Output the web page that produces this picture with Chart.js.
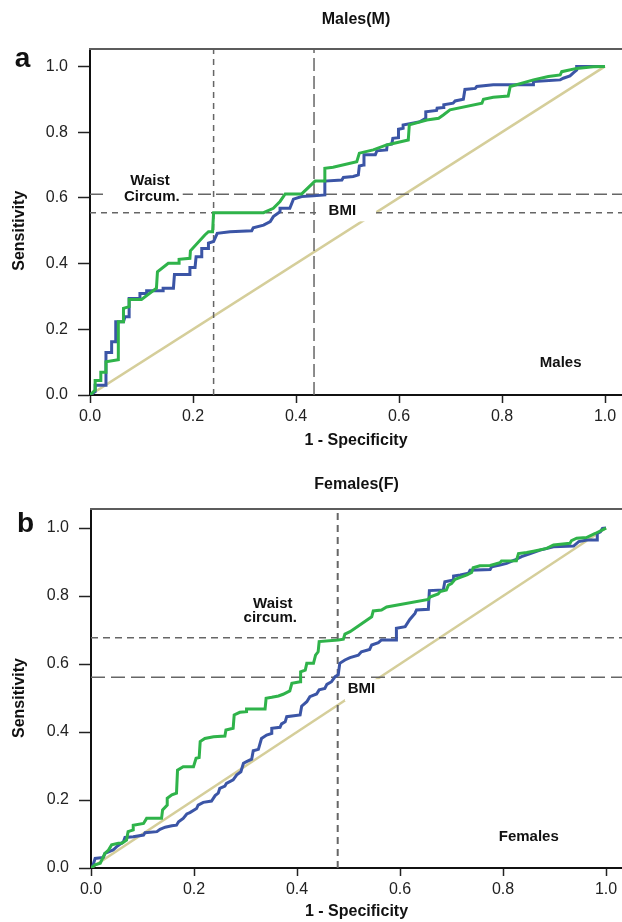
<!DOCTYPE html>
<html>
<head>
<meta charset="utf-8">
<script src="https://cdn.jsdelivr.net/npm/chart.js@4.4.1/dist/chart.umd.min.js"></script>
<style>
  body { margin: 0; background: #fff; }
  .panel { position: absolute; left: 0; width: 622px; }
  #boxA { top: 0; height: 460px; }
  #boxB { top: 460px; height: 462px; }
</style>
</head>
<body>
<div class="panel" id="boxA"><canvas id="chartA"></canvas></div>
<div class="panel" id="boxB"><canvas id="chartB"></canvas></div>
<script>
// tick values shared by both axes
const axisTicks = [0, 0.2, 0.4, 0.6, 0.8, 1.0];

// Males: ROC points [1 - specificity, sensitivity]
const maleWaist = [[0,0],[0.010,0.015],[0.010,0.044],[0.021,0.044],[0.021,0.069],[0.031,0.069],[0.031,0.101],[0.055,0.107],[0.055,0.223],[0.065,0.223],[0.065,0.264],[0.076,0.269],[0.076,0.291],[0.100,0.291],[0.129,0.325],[0.131,0.375],[0.152,0.401],[0.173,0.401],[0.173,0.413],[0.194,0.416],[0.195,0.439],[0.223,0.487],[0.230,0.497],[0.238,0.497],[0.240,0.555],[0.337,0.555],[0.356,0.568],[0.369,0.589],[0.379,0.612],[0.411,0.612],[0.437,0.651],[0.456,0.651],[0.456,0.690],[0.472,0.693],[0.518,0.710],[0.523,0.736],[0.550,0.746],[0.576,0.761],[0.618,0.776],[0.620,0.822],[0.654,0.837],[0.677,0.842],[0.686,0.852],[0.699,0.868],[0.761,0.888],[0.764,0.900],[0.783,0.906],[0.812,0.910],[0.816,0.939],[0.861,0.959],[0.890,0.969],[0.913,0.974],[0.916,0.984],[0.945,0.994],[0.977,0.999],[1.0,1.0]];
const maleBmi = [[0,0],[0.010,0.010],[0.010,0.030],[0.031,0.030],[0.031,0.129],[0.042,0.129],[0.042,0.162],[0.050,0.162],[0.050,0.223],[0.065,0.223],[0.068,0.238],[0.076,0.238],[0.076,0.294],[0.097,0.294],[0.097,0.309],[0.110,0.309],[0.110,0.317],[0.142,0.317],[0.142,0.325],[0.162,0.325],[0.164,0.367],[0.194,0.367],[0.194,0.388],[0.204,0.388],[0.206,0.421],[0.217,0.421],[0.217,0.446],[0.230,0.446],[0.230,0.462],[0.240,0.467],[0.247,0.492],[0.272,0.497],[0.314,0.500],[0.317,0.509],[0.337,0.517],[0.350,0.528],[0.356,0.543],[0.369,0.558],[0.369,0.568],[0.388,0.568],[0.395,0.596],[0.411,0.604],[0.434,0.606],[0.456,0.609],[0.456,0.651],[0.489,0.654],[0.492,0.662],[0.511,0.665],[0.521,0.670],[0.523,0.697],[0.531,0.700],[0.532,0.731],[0.554,0.731],[0.557,0.743],[0.576,0.746],[0.577,0.761],[0.586,0.764],[0.588,0.781],[0.599,0.783],[0.599,0.809],[0.608,0.812],[0.608,0.822],[0.641,0.832],[0.652,0.842],[0.652,0.862],[0.673,0.866],[0.674,0.873],[0.686,0.875],[0.687,0.883],[0.705,0.888],[0.709,0.895],[0.725,0.900],[0.728,0.930],[0.748,0.933],[0.751,0.939],[0.783,0.944],[0.861,0.944],[0.861,0.954],[0.913,0.959],[0.919,0.964],[0.932,0.971],[0.939,0.981],[0.945,0.989],[0.945,1.0],[1.0,1.0]];
const maleCutX = [0.24, 0.435];
const maleCutY = [0.555, 0.611];

// Females
const femaleWaist = [[0,0],[0.008,0.009],[0.018,0.014],[0.027,0.043],[0.034,0.053],[0.040,0.068],[0.053,0.073],[0.060,0.073],[0.069,0.082],[0.072,0.107],[0.082,0.112],[0.082,0.126],[0.102,0.131],[0.108,0.146],[0.137,0.146],[0.139,0.171],[0.148,0.185],[0.148,0.205],[0.157,0.215],[0.166,0.220],[0.168,0.288],[0.179,0.298],[0.199,0.298],[0.204,0.323],[0.210,0.325],[0.212,0.372],[0.221,0.381],[0.238,0.386],[0.260,0.388],[0.262,0.406],[0.276,0.411],[0.278,0.450],[0.289,0.458],[0.302,0.460],[0.302,0.468],[0.338,0.468],[0.340,0.499],[0.351,0.502],[0.364,0.506],[0.373,0.511],[0.386,0.521],[0.390,0.543],[0.406,0.548],[0.407,0.577],[0.416,0.582],[0.419,0.602],[0.432,0.602],[0.436,0.626],[0.441,0.636],[0.443,0.666],[0.480,0.671],[0.490,0.673],[0.493,0.688],[0.503,0.695],[0.545,0.739],[0.548,0.756],[0.564,0.759],[0.574,0.768],[0.655,0.790],[0.658,0.797],[0.674,0.806],[0.678,0.813],[0.690,0.818],[0.694,0.832],[0.700,0.837],[0.707,0.849],[0.717,0.855],[0.730,0.862],[0.739,0.869],[0.742,0.883],[0.755,0.889],[0.775,0.890],[0.794,0.898],[0.797,0.903],[0.826,0.904],[0.830,0.925],[0.846,0.928],[0.859,0.932],[0.885,0.940],[0.898,0.950],[0.930,0.955],[0.933,0.963],[0.943,0.970],[0.962,0.972],[0.979,0.984],[1.0,1.0]];
const femaleBmi = [[0,0],[0.003,0.004],[0.008,0.028],[0.024,0.031],[0.027,0.043],[0.043,0.053],[0.050,0.063],[0.063,0.077],[0.066,0.090],[0.082,0.092],[0.102,0.097],[0.105,0.104],[0.128,0.107],[0.134,0.114],[0.144,0.120],[0.157,0.124],[0.166,0.126],[0.170,0.136],[0.179,0.146],[0.186,0.159],[0.192,0.163],[0.205,0.175],[0.208,0.185],[0.218,0.193],[0.234,0.197],[0.241,0.213],[0.247,0.220],[0.250,0.234],[0.260,0.241],[0.263,0.249],[0.276,0.259],[0.283,0.274],[0.291,0.283],[0.296,0.308],[0.302,0.313],[0.312,0.320],[0.315,0.345],[0.325,0.349],[0.331,0.381],[0.341,0.391],[0.351,0.396],[0.351,0.411],[0.367,0.414],[0.370,0.424],[0.377,0.430],[0.380,0.445],[0.406,0.450],[0.409,0.476],[0.419,0.489],[0.425,0.504],[0.438,0.512],[0.443,0.524],[0.454,0.528],[0.458,0.540],[0.467,0.548],[0.474,0.563],[0.480,0.568],[0.483,0.602],[0.493,0.612],[0.503,0.619],[0.519,0.626],[0.525,0.636],[0.541,0.643],[0.545,0.656],[0.558,0.663],[0.564,0.671],[0.593,0.671],[0.593,0.705],[0.610,0.710],[0.619,0.731],[0.629,0.749],[0.632,0.759],[0.655,0.761],[0.657,0.816],[0.684,0.818],[0.687,0.842],[0.704,0.847],[0.704,0.859],[0.717,0.862],[0.733,0.867],[0.736,0.876],[0.775,0.878],[0.778,0.886],[0.794,0.891],[0.807,0.896],[0.823,0.906],[0.836,0.916],[0.853,0.925],[0.872,0.935],[0.898,0.945],[0.937,0.947],[0.947,0.960],[0.963,0.965],[0.983,0.965],[0.983,0.984],[0.989,0.989],[0.993,0.999],[1.0,1.0]];
const femaleCutX = [0.479];
const femaleCutY = [0.677, 0.561];

// reference (chance) line
const chanceLine = [[0,0],[1,1]];

const fontFamily = '"Liberation Sans", Arial, Helvetica, sans-serif';
Chart.defaults.font.family = fontFamily;

const GREEN = '#2fb34a';
const BLUE = '#3b55a6';
const BEIGE = '#d5ce9a';
const DASH = '#666666';

const toPts = arr => arr.map(p => ({ x: p[0], y: p[1] }));

function lineSet(data, color, width, dash, order) {
    return {
        data: data,
        showLine: true,
        borderColor: color,
        borderWidth: width,
        borderDash: dash,
        pointRadius: 0,
        fill: false,
        tension: 0,
        order: order
    };
}

// texts inside the plot, the frame top, y title and panel letter
const rocNotes = {
    id: 'rocNotes',
    afterDatasetsDraw(chart, args, o) {
        const { ctx, chartArea } = chart;
        const sx = chart.scales.x, sy = chart.scales.y;
        ctx.save();
        ctx.strokeStyle = '#5c5c5c';
        ctx.lineWidth = 2;
        ctx.beginPath();
        ctx.moveTo(chartArea.left - 1, chartArea.top);
        ctx.lineTo(chart.width, chartArea.top);
        ctx.stroke();

        ctx.textAlign = 'center';
        ctx.textBaseline = 'middle';
        ctx.font = 'bold 15px ' + fontFamily;
        o.labels.forEach(l => {
            const px = sx.getPixelForValue(l.x), py = sy.getPixelForValue(l.y);
            if (l.box) {
                const w = ctx.measureText(l.text).width;
                ctx.fillStyle = '#fff';
                ctx.fillRect(px - w / 2 - l.box[0], py - l.box[2], w + l.box[0] + l.box[1], l.box[2] + l.box[3]);
            }
            ctx.fillStyle = '#111';
            ctx.fillText(l.text, px, py);
        });

        ctx.font = 'bold 16px ' + fontFamily;
        ctx.save();
        ctx.translate(o.yTitleX, sy.getPixelForValue(0.5));
        ctx.rotate(-Math.PI / 2);
        ctx.fillText('Sensitivity', 0, 0);
        ctx.restore();

        ctx.font = 'bold 28px ' + fontFamily;
        ctx.textBaseline = 'alphabetic';
        ctx.fillText(o.letter, o.letterX, o.letterY);
        ctx.restore();
    }
};

function buildChart(id, p) {
    const sets = [
        lineSet(toPts(p.waist), GREEN, 3, [], 1),
        lineSet(toPts(p.bmi), BLUE, 3, [], 2)
    ];
    p.cutX.forEach((cx, i) => {
        sets.push(lineSet([{ x: cx, y: 0 }, { x: cx, y: p.yMax }], DASH, p.cutXStyle[i].w, p.cutXStyle[i].dash, 3));
    });
    p.cutY.forEach((cy, i) => {
        sets.push(lineSet([{ x: 0, y: cy }, { x: p.xMax, y: cy }], DASH, p.cutYStyle[i].w, p.cutYStyle[i].dash, 3));
    });
    sets.push(lineSet(toPts(chanceLine), BEIGE, 2.5, [], 5));

    return new Chart(document.getElementById(id), {
        type: 'scatter',
        data: { datasets: sets },
        plugins: [rocNotes],
        options: {
            responsive: true,
            maintainAspectRatio: false,
            animation: false,
            devicePixelRatio: 1,
            layout: { padding: 0 },
            plugins: {
                legend: { display: false },
                tooltip: { enabled: false },
                title: {
                    display: true,
                    text: p.title,
                    fullSize: false,
                    color: '#111',
                    font: { size: 16, weight: 'bold' },
                    padding: p.titlePad
                },
                rocNotes: {
                    labels: p.labels,
                    yTitleX: 20,
                    letter: p.letter,
                    letterX: p.letterX,
                    letterY: p.letterY
                }
            },
            scales: {
                x: {
                    type: 'linear',
                    min: 0,
                    max: p.xMax,
                    afterBuildTicks: s => { s.ticks = axisTicks.map(v => ({ value: v })); },
                    ticks: { callback: v => v.toFixed(1), color: '#222', font: { size: 16 }, padding: 4, maxRotation: 0, autoSkip: false },
                    grid: { drawOnChartArea: false, tickLength: 8, tickColor: '#222', tickWidth: 1.5 },
                    border: { color: '#111', width: 2 },
                    title: {
                        display: true,
                        text: '1 - Specificity',
                        color: '#111',
                        font: { size: 16, weight: 'bold' },
                        padding: { top: 0, bottom: p.xTitlePad }
                    },
                    afterFit: s => { s.height = p.xAxisH; }
                },
                y: {
                    type: 'linear',
                    min: 0,
                    max: p.yMax,
                    afterBuildTicks: s => { s.ticks = axisTicks.map(v => ({ value: v })); },
                    ticks: { callback: v => v.toFixed(1), color: '#222', font: { size: 16 }, padding: 10, autoSkip: false },
                    grid: { drawOnChartArea: false, tickLength: 12, tickColor: '#222', tickWidth: 1.5 },
                    border: { color: '#111', width: 2 },
                    afterFit: s => { s.width = p.yAxisW; }
                }
            }
        }
    });
}

buildChart('chartA', {
    title: 'Males(M)',
    waist: maleWaist,
    bmi: maleBmi,
    cutX: maleCutX,
    cutY: maleCutY,
    cutXStyle: [{ w: 1.5, dash: [6, 5] }, { w: 1.5, dash: [13, 5] }],
    cutYStyle: [{ w: 1.5, dash: [6, 5] }, { w: 1.5, dash: [13, 5] }],
    xMax: 1.033,
    yMax: 1.053,
    yAxisW: 90,
    xAxisH: 65,
    titlePad: { top: 10.4, bottom: 19.4 },
    xTitlePad: 9.4,
    letter: 'a', letterX: 22.5, letterY: 67,
    labels: [
        { text: 'Waist', x: 0.1165, y: 0.651 },
        { text: 'Circum.', x: 0.120, y: 0.603, box: [17, 3, 11, 7] },
        { text: 'BMI', x: 0.490, y: 0.559, box: [11.75, 20, 7.5, 10] },
        { text: 'Males', x: 0.914, y: 0.097 }
    ]
});

buildChart('chartB', {
    title: 'Females(F)',
    waist: femaleWaist,
    bmi: femaleBmi,
    cutX: femaleCutX,
    cutY: femaleCutY,
    cutXStyle: [{ w: 2, dash: [7, 5] }],
    cutYStyle: [{ w: 1.5, dash: [7, 5] }, { w: 1.5, dash: [14, 6] }],
    xMax: 1.031,
    yMax: 1.056,
    yAxisW: 91,
    xAxisH: 54,
    titlePad: { top: 15.4, bottom: 14.4 },
    xTitlePad: 0.4,
    letter: 'b', letterX: 25.5, letterY: 72,
    labels: [
        { text: 'Waist', x: 0.353, y: 0.776 },
        { text: 'circum.', x: 0.348, y: 0.735 },
        { text: 'BMI', x: 0.525, y: 0.526, box: [2.75, 3.75, 10, 12] },
        { text: 'Females', x: 0.850, y: 0.091 }
    ]
});
</script>
</body>
</html>
